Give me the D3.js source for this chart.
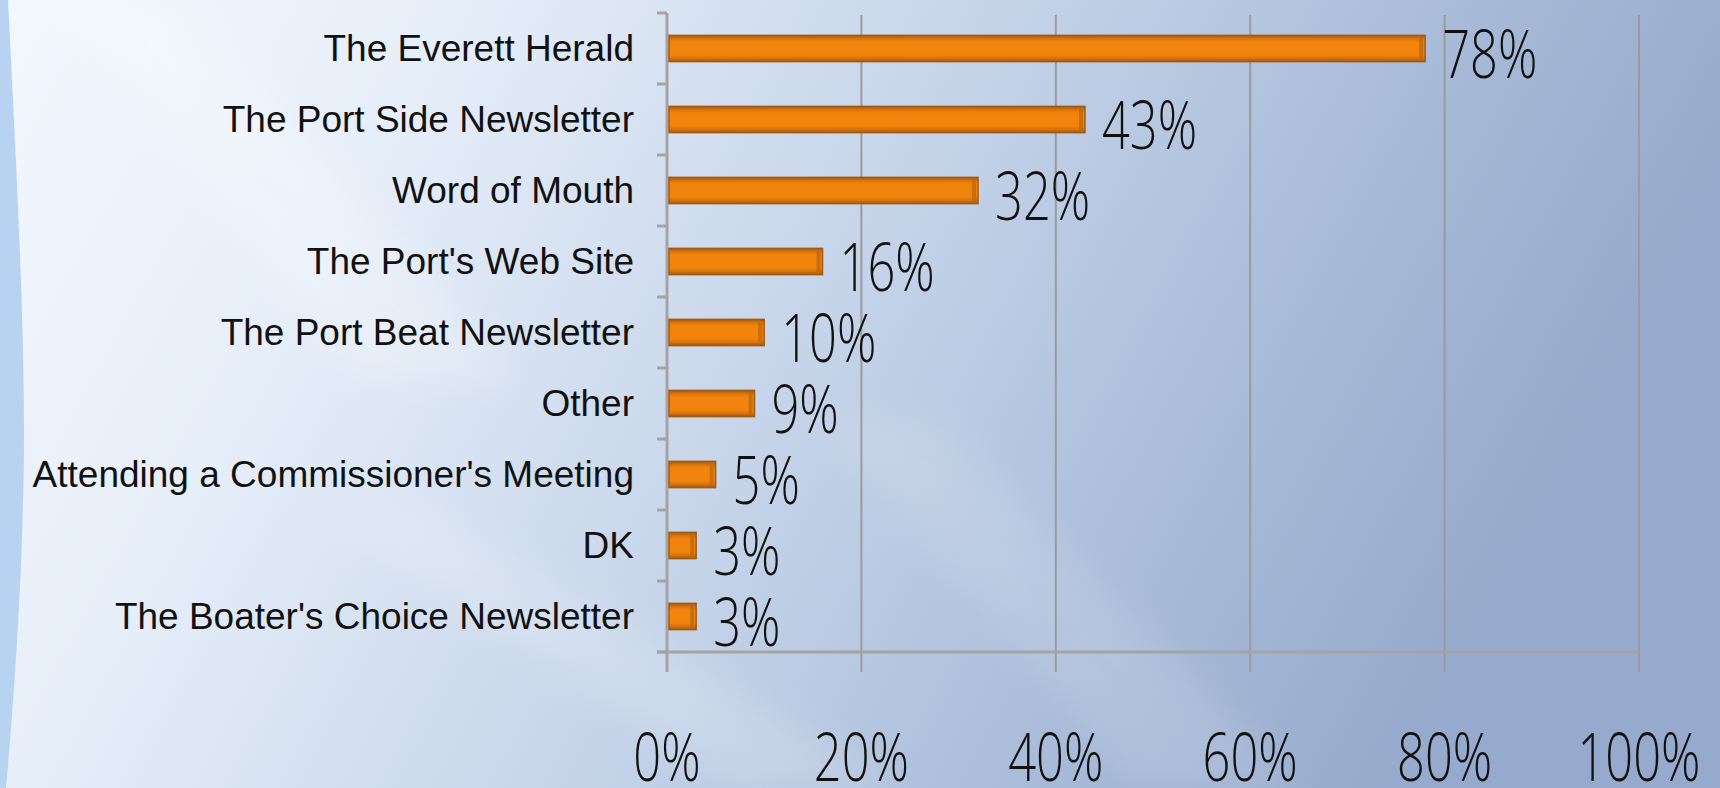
<!DOCTYPE html>
<html>
<head>
<meta charset="utf-8">
<script src="https://cdn.jsdelivr.net/npm/d3@7"></script>
<style>
  html, body { margin: 0; padding: 0; overflow: hidden; }
  svg { display: block; }
</style>
</head>
<body>
<div id="graph"></div>
<script>
const categories = [
  "The Everett Herald",
  "The Port Side Newsletter",
  "Word of Mouth",
  "The Port's Web Site",
  "The Port Beat Newsletter",
  "Other",
  "Attending a Commissioner's Meeting",
  "DK",
  "The Boater's Choice Newsletter"
];
const values = [78, 43, 32, 16, 10, 9, 5, 3, 3];
const tickValues = [0, 20, 40, 60, 80, 100];

(function() {
    const W = 1720, H = 788,
      left = 667, right = 1639, top = 13, bottom = 652;

    const svg = d3.select("#graph").append("svg")
      .attr("width", W)
      .attr("height", H);

    const defs = svg.append("defs");

    const bg = defs.append("linearGradient").attr("id", "bg")
      .attr("x1", 0).attr("y1", 0).attr("x2", 1).attr("y2", 0.25);
    bg.append("stop").attr("offset", "0%").attr("stop-color", "#f3f8fe");
    bg.append("stop").attr("offset", "25%").attr("stop-color", "#e6eef9");
    bg.append("stop").attr("offset", "55%").attr("stop-color", "#c5d4e9");
    bg.append("stop").attr("offset", "80%").attr("stop-color", "#a8bbd8");
    bg.append("stop").attr("offset", "100%").attr("stop-color", "#95aacc");

    const barGrad = defs.append("linearGradient").attr("id", "bar")
      .attr("x1", 0).attr("y1", 0).attr("x2", 0).attr("y2", 1);
    barGrad.append("stop").attr("offset", "0%").attr("stop-color", "#a35a10");
    barGrad.append("stop").attr("offset", "12%").attr("stop-color", "#d8740c");
    barGrad.append("stop").attr("offset", "25%").attr("stop-color", "#f1840d");
    barGrad.append("stop").attr("offset", "75%").attr("stop-color", "#f1840d");
    barGrad.append("stop").attr("offset", "88%").attr("stop-color", "#d4720e");
    barGrad.append("stop").attr("offset", "100%").attr("stop-color", "#a35a10");

    const blur = defs.append("filter").attr("id", "soft")
      .attr("x", "-20%").attr("y", "-20%").attr("width", "140%").attr("height", "140%");
    blur.append("feGaussianBlur").attr("stdDeviation", 18);

    svg.append("rect")
      .attr("width", W)
      .attr("height", H)
      .attr("fill", "url(#bg)");

    // faint light streaks in the backdrop
    const streaks = [[60, 0, 520, 380, 0.5], [300, 500, 900, 788, 0.35], [820, 420, 1300, 788, 0.25]];
    svg.selectAll(".streak")
      .data(streaks)
      .enter().append("path")
      .attr("class", "streak")
      .attr("d", (d) => `M${d[0]},${d[1]} L${d[0] + 120},${d[1]} L${d[2]},${d[3]} L${d[2] - 160},${d[3]} Z`)
      .attr("fill", "#ffffff")
      .attr("filter", "url(#soft)")
      .attr("opacity", (d) => d[4] * 0.5);

    svg.append("path")
      .attr("d", "M0,0 L8,0 C14,120 24,300 24,430 C24,560 14,700 6,788 L0,788 Z")
      .attr("fill", "#b8d3f1");

    const x = d3.scaleLinear().domain([0, 100]).range([left, right]);
    const y = d3.scaleBand().domain(categories).range([top, bottom])
      .paddingInner(0.63).paddingOuter(0.315);

    const step = y.step();

    svg.selectAll(".grid")
      .data(tickValues)
      .enter().append("line")
      .attr("class", "grid")
      .attr("x1", (d) => x(d)).attr("x2", (d) => x(d))
      .attr("y1", top + 2).attr("y2", bottom + 20)
      .attr("stroke", "#9b9b9b")
      .attr("stroke-width", 2);

    svg.append("line")
      .attr("x1", left - 10).attr("x2", right)
      .attr("y1", bottom).attr("y2", bottom)
      .attr("stroke", "#a4a4a4")
      .attr("stroke-width", 3);

    svg.selectAll(".ytick")
      .data(d3.range(categories.length + 1))
      .enter().append("line")
      .attr("class", "ytick")
      .attr("x1", left - 10).attr("x2", left)
      .attr("y1", (i) => top + i * step).attr("y2", (i) => top + i * step)
      .attr("stroke", "#a4a4a4")
      .attr("stroke-width", 3);

    svg.append("line")
      .attr("x1", left).attr("x2", left)
      .attr("y1", top).attr("y2", bottom + 20)
      .attr("stroke", "#a4a4a4")
      .attr("stroke-width", 3);

    const bars = svg.selectAll(".bar")
      .data(values)
      .enter().append("g")
      .attr("class", "bar");

    bars.append("rect")
      .attr("x", x(0) + 2)
      .attr("y", (d, i) => y(categories[i]))
      .attr("width", (d) => x(d) - x(0) - 2)
      .attr("height", y.bandwidth())
      .attr("fill", "url(#bar)")
      .attr("stroke", "#a25b14")
      .attr("stroke-width", 1.5);

    bars.append("rect")
      .attr("x", (d) => x(d) - 6)
      .attr("y", (d, i) => y(categories[i]) + 2)
      .attr("width", 4)
      .attr("height", y.bandwidth() - 4)
      .attr("fill", "#c0680f")
      .attr("opacity", 0.8);

    bars.append("text")
      .attr("transform", (d, i) => `translate(${x(d) + 17},${y(categories[i]) + y.bandwidth() / 2 + 29}) scale(0.74,1)`)
      .text((d) => d + "%")
      .style("font-family", "'Open Sans', 'Liberation Sans', sans-serif")
      .style("font-weight", 300)
      .style("font-size", "66px")
      .attr("fill", "#111");

    svg.selectAll(".cat")
      .data(categories)
      .enter().append("text")
      .attr("class", "cat")
      .attr("x", 634)
      .attr("y", (d) => y(d) + y.bandwidth() / 2 + 12)
      .attr("text-anchor", "end")
      .text((d) => d)
      .style("font-family", "'Liberation Sans', sans-serif")
      .style("font-size", "37px")
      .attr("fill", "#111");

    svg.selectAll(".xlab")
      .data(tickValues)
      .enter().append("text")
      .attr("class", "xlab")
      .attr("transform", (d) => `translate(${x(d)},781) scale(0.74,1)`)
      .attr("text-anchor", "middle")
      .text((d) => d + "%")
      .style("font-family", "'Open Sans', 'Liberation Sans', sans-serif")
      .style("font-weight", 300)
      .style("font-size", "66px")
      .attr("fill", "#111");
})()
</script>
</body>
</html>
